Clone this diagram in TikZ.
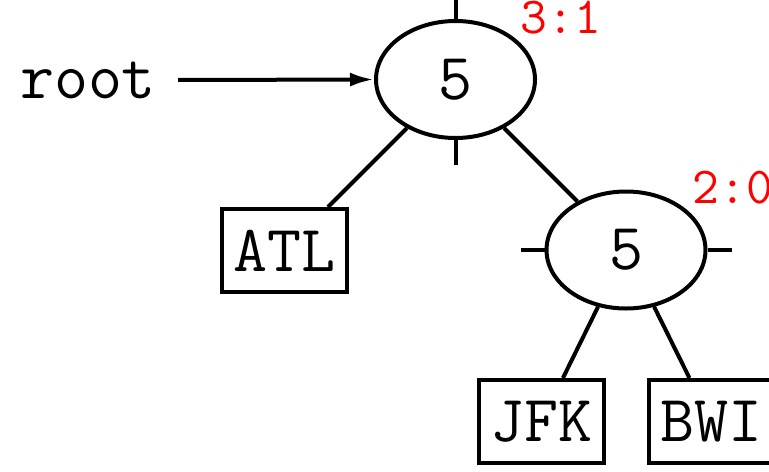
\documentclass[tikz,border=0pt]{standalone}
\usepackage{fontspec}
\usetikzlibrary{shapes.geometric,arrows.meta}
\begin{document}
\begin{tikzpicture}[x=0.5pt,y=-0.5pt,line width=2pt,
  every node/.style={font=\fontsize{33}{40}\selectfont\ttfamily},
  treenode/.style={draw,ellipse,inner sep=0pt,minimum width=79.5pt,minimum height=58.5pt},
  leafbox/.style={draw,rectangle,inner sep=0pt,minimum width=62.5pt,minimum height=41.5pt},
  balance/.style={text=red,font=\fontsize{26}{32}\selectfont\ttfamily,anchor=base,inner sep=0pt},
  tick/.style={line width=2pt}]
\useasboundingbox (0,0) rectangle (769,471);
\node[treenode] (r) at (455.5,79.5) {5};
\node[treenode] (s) at (626,250) {5};
\node[leafbox] (atl) at (284.5,250.5) {ATL};
\node[leafbox] (jfk) at (541.5,421.5) {JFK};
\node[leafbox] (bwi) at (711,421.5) {BWI};
\node[anchor=base,inner sep=0pt] (lbl) at (88,98) {root};
\coordinate (start) at (178,80);
\node[balance] (b1) at (561,33) {3:1};
\node[balance] (b2) at (733,203) {2:0};
\draw[-{Latex[length=12pt,width=7pt]}] (start) -- (r.west);
\draw (r) -- (atl);
\draw (r) -- (s);
\draw (s) -- (jfk);
\draw (s) -- (bwi);
\draw[tick] (r.north) -- ++(0,-25);
\draw[tick] (r.south) -- ++(0,25);
\draw[tick] (s.west) -- ++(-24,0);
\draw[tick] (s.east) -- ++(24,0);
\end{tikzpicture}
\end{document}
